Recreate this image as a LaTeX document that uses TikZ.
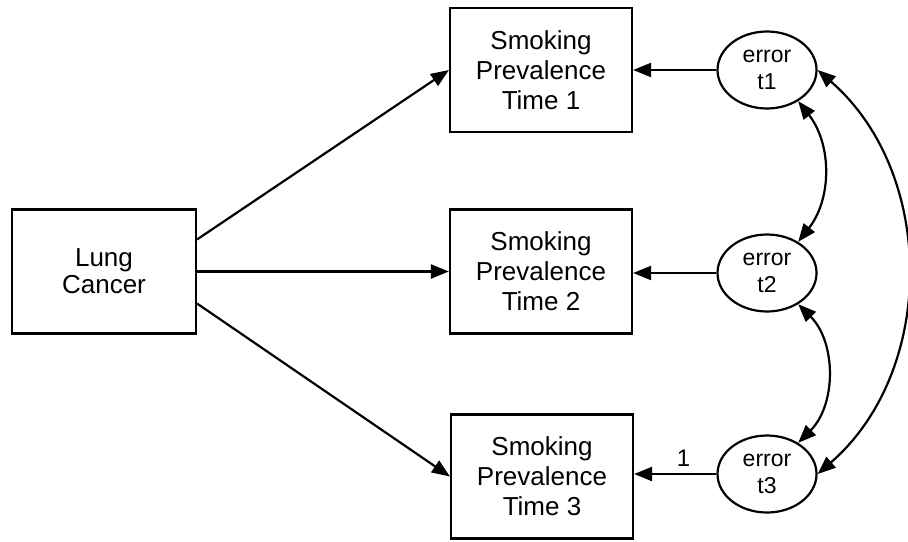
\documentclass[tikz,border=0pt]{standalone}
\usepackage{fontspec}
\setmainfont{Liberation Sans}
\usetikzlibrary{arrows.meta, shapes.geometric}

\begin{document}
\begin{tikzpicture}[x=0.5pt, y=-0.5pt, line width=1.1pt,
    >={Triangle[length=9pt, width=7pt]},
    var/.style={draw, rectangle, minimum width=91pt, minimum height=62pt, inner sep=0pt, align=center, font=\fontsize{13}{15}\selectfont},
    err/.style={draw, ellipse, minimum width=49.5pt, minimum height=38.5pt, inner sep=0pt, align=center, font=\fontsize{11.5}{13.5}\selectfont}]
    \useasboundingbox (0,0) rectangle (908,541);

    % Observed variables
    \node[var, minimum width=92pt, font=\fontsize{13}{13.5}\selectfont] (lung) at (104,271.5) {Lung\\Cancer};
    \node[var] (smk1) at (541,70) {Smoking\\Prevalence\\Time 1};
    \node[var] (smk2) at (541,271.5) {Smoking\\Prevalence\\Time 2};
    \node[var] (smk3) at (542,476.5) {Smoking\\Prevalence\\Time 3};

    % Error terms
    \node[err] (e1) at (767,70) {error\\t1};
    \node[err] (e2) at (767,273) {error\\t2};
    \node[err] (e3) at (767,474) {error\\t3};

    % Regression paths
    \draw[->] (lung.19) -- (smk1.west);
    \draw[->] (lung.east) -- (smk2.west);
    \draw[->] (lung.-19) -- (smk3.west);

    \draw[->] (e1.west) -- (e1.west -| smk1.east);
    \draw[->] (e2.west) -- (e2.west -| smk2.east);
    \draw[->] (e3.west) -- (e3.west -| smk3.east) node[pos=0.4, above, font=\fontsize{12}{14}\selectfont] {1};

    % Correlated errors
    \draw[<->] (e1.-45) to[bend left=38] (e2.45);
    \draw[<->] (e2.-45) to[bend left=45] (e3.45);
    \draw[<->] (e1.east) to[bend left=49] (e3.east);
\end{tikzpicture}
\end{document}
